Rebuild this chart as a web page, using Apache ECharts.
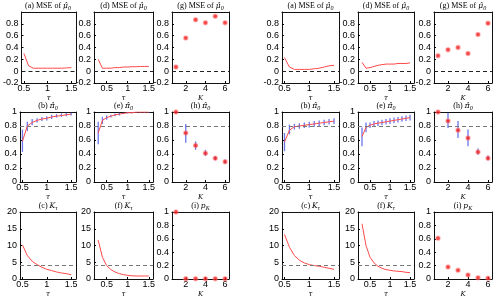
<!DOCTYPE html>
<html><head><meta charset="utf-8">
<script src="https://cdn.jsdelivr.net/npm/echarts@6/dist/echarts.min.js"></script>
<style>html,body{margin:0;padding:0;background:#fff}#c{width:496px;height:299px}</style>
</head><body><div id="c"></div>
<script>
// ---------- data ----------
const tauA = [0.5,0.6,0.7,0.8,0.9,1.0,1.1,1.2,1.3,1.4,1.5];
const tauB = [0.3,0.4,0.5,0.6,0.7,0.8,0.9,1.0,1.1,1.2,1.3,1.4,1.5];
const Kvals = [1,2,3,4,5,6];

const xTicksTau = [0.5,1,1.5];
const xTicksK = [2,4,6];
const yTicksMSE = [-0.2,0,0.2,0.4,0.6,0.8];
const yTicksPi = [0,0.2,0.4,0.6,0.8,1];
const yTicksKt = [0,5,10,15,20];

const refMSE = 0, refPi = 0.8, refKt = 4;

// left group
const L_a_mse = [0.30,0.09,0.05,0.05,0.05,0.05,0.05,0.05,0.05,0.055,0.06];
const L_d_mse = [0.20,0.05,0.05,0.05,0.06,0.06,0.07,0.07,0.075,0.075,0.08,0.08,0.08];
const L_g_mse = [0.07,0.56,0.87,0.82,0.93,0.82];
const L_b_pi = [0.58,0.80,0.85,0.88,0.90,0.91,0.93,0.94,0.95,0.96,0.97];
const L_b_lo = [0.43,0.73,0.81,0.85,0.87,0.88,0.90,0.92,0.93,0.94,0.95];
const L_b_hi = [0.75,0.86,0.90,0.91,0.93,0.94,0.96,0.97,0.98,0.99,0.99];
const L_e_pi = [0.70,0.88,0.92,0.94,0.96,0.97,0.98,0.99,0.99,1.0,1.0,1.0,1.0];
const L_e_lo = [0.54,0.83,0.89,0.92,0.94,0.95,0.97,0.98,0.98,0.99,0.99,0.99,0.99];
const L_e_hi = [0.86,0.93,0.95,0.96,0.98,0.99,0.99,1,1,1,1,1,1];
const L_h_pi = [1.0,0.70,0.52,0.41,0.34,0.29];
const L_h_lo = [1.0,0.56,0.46,0.37,0.31,0.26];
const L_h_hi = [1.0,0.83,0.58,0.46,0.37,0.32];
const L_c_K = [10.2,7.0,5.3,4.3,3.5,2.9,2.5,2.1,1.8,1.6,1.3];
const L_f_K = [11.6,6.5,4.0,2.8,2.1,1.6,1.3,1.1,0.95,0.9,0.9,0.9,0.9];
const L_i_p = [1.0,0.005,0.003,0.003,0.003,0.003];

// right group
const R_a_mse = [0.23,0.07,0.03,0.03,0.03,0.03,0.04,0.05,0.07,0.09,0.10];
const R_d_mse = [0.15,0.05,0.06,0.08,0.10,0.11,0.12,0.12,0.12,0.13,0.13,0.13,0.14];
const R_g_mse = [0.26,0.36,0.40,0.30,0.62,0.81];
const R_b_pi = [0.57,0.74,0.79,0.80,0.81,0.82,0.83,0.84,0.85,0.86,0.87];
const R_b_lo = [0.44,0.68,0.75,0.76,0.77,0.78,0.79,0.80,0.81,0.82,0.83];
const R_b_hi = [0.70,0.82,0.83,0.84,0.85,0.86,0.87,0.88,0.89,0.90,0.91];
const R_e_pi = [0.65,0.78,0.81,0.83,0.84,0.85,0.86,0.87,0.88,0.89,0.90,0.91,0.92];
const R_e_lo = [0.51,0.71,0.77,0.79,0.80,0.81,0.82,0.83,0.84,0.85,0.86,0.87,0.88];
const R_e_hi = [0.78,0.85,0.85,0.87,0.88,0.89,0.90,0.91,0.92,0.93,0.94,0.95,0.96];
const R_h_pi = [1.0,0.87,0.74,0.63,0.43,0.34];
const R_h_lo = [1.0,0.77,0.63,0.51,0.39,0.31];
const R_h_hi = [1.0,0.99,0.87,0.75,0.48,0.38];
const R_c_K = [13.3,9.5,7.0,5.6,4.8,4.3,4.0,3.8,3.5,3.2,2.9];
const R_f_K = [16.5,10.0,6.5,4.8,3.8,3.2,2.8,2.6,2.4,2.3,2.2,2.0,1.9];
const R_i_p = [0.61,0.18,0.13,0.06,0.02,0.01];

// ---------- layout ----------
const colLeft = [20,94,172,282,358,434];
const colWidth = [56,59,57,57,56,58];
const rowTop = [12,112,212];
const rowHeight = [71,70,69];

const RED = '#ff4a4a', BLUE = '#4f5fe8';
const tickFont = {fontFamily:'Liberation Sans', fontSize:9, color:'#000'};

const xDefs = [
  {min:0.45, max:1.6, ticks:xTicksTau, name:'τ'},
  {min:0.2, max:1.6, ticks:xTicksTau, name:'τ'},
  {min:0.6, max:6.4, ticks:xTicksK, name:'K'}
];
const yDefs = {
  mse:{min:-0.2, max:1, ticks:yTicksMSE},
  pi:{min:0, max:1, ticks:yTicksPi},
  kt:{min:0, max:20, ticks:yTicksKt}
};

const titleTexts = [
  ['{n|(a) MSE of }{i|μ̂}{s|0}','{n|(b) }{i|π̂}{s|0}','{n|(c) }{i|K}{s|τ}'],
  ['{n|(d) MSE of }{i|μ̂}{s|0}','{n|(e) }{i|π̂}{s|0}','{n|(f) }{i|K}{s|τ}'],
  ['{n|(g) MSE of }{i|μ̂}{s|0}','{n|(h) }{i|π̂}{s|0}','{n|(i) }{i|p}{s|K}']
];
const titleY = [6, 106, 206];

const groups = [
  {lines:[[L_a_mse,L_b_pi,L_c_K],[L_d_mse,L_e_pi,L_f_K]], lo:[L_b_lo,L_e_lo], hi:[L_b_hi,L_e_hi],
   g:L_g_mse, h:[L_h_pi,L_h_lo,L_h_hi], i:L_i_p},
  {lines:[[R_a_mse,R_b_pi,R_c_K],[R_d_mse,R_e_pi,R_f_K]], lo:[R_b_lo,R_e_lo], hi:[R_b_hi,R_e_hi],
   g:R_g_mse, h:[R_h_pi,R_h_lo,R_h_hi], i:R_i_p}
];

const grid=[], xAxis=[], yAxis=[], series=[], graphic=[];
const rich = {
  n:{fontFamily:'Liberation Serif', fontSize:8, color:'#000'},
  i:{fontFamily:'DejaVu Serif', fontStyle:'italic', fontSize:7.5, color:'#000'},
  s:{fontFamily:'Liberation Serif', fontStyle:'italic', fontSize:6, color:'#000', padding:[4,0,0,0]}
};

function fmt(v){ return (Math.round(v*100)/100).toString(); }

function errRender(params, api){
  const x = api.value(0);
  const p1 = api.coord([x, api.value(1)]);
  const p2 = api.coord([x, api.value(2)]);
  return {type:'line', shape:{x1:p1[0],y1:p1[1],x2:p2[0],y2:p2[1]}, style:{stroke:BLUE, lineWidth:1.3, opacity:0.85}};
}

const axisLineStyle = {show:true, onZero:false, lineStyle:{color:'#111', width:1}};

let gi = 0;
groups.forEach((G, gIdx) => {
  for (let c=0;c<3;c++){
    for (let r=0;r<3;r++){
      const left = colLeft[gIdx*3+c], width = colWidth[gIdx*3+c];
      const top = rowTop[r], height = rowHeight[r];
      grid.push({left, top, width, height});
      const xd = xDefs[c];
      const yd = (r===0) ? yDefs.mse : (r===1 ? yDefs.pi : (c===2 ? yDefs.pi : yDefs.kt));
      const ai = xAxis.length;
      xAxis.push({type:'value', gridIndex:gi, position:'bottom', min:xd.min, max:xd.max,
        name:xd.name, nameLocation:'middle', nameGap:12,
        nameTextStyle:{fontFamily:'DejaVu Serif', fontStyle:'italic', fontSize:7, color:'#000'},
        axisLine:axisLineStyle, splitLine:{show:false},
        axisTick:{show:true, inside:true, length:2, customValues:xd.ticks, lineStyle:{color:'#000'}},
        axisLabel:Object.assign({show:true, margin:1, customValues:xd.ticks, formatter:fmt}, tickFont)});
      xAxis.push({type:'value', gridIndex:gi, position:'top', min:xd.min, max:xd.max,
        axisLine:axisLineStyle, splitLine:{show:false}, axisTick:{show:false}, axisLabel:{show:false}});
      yAxis.push({type:'value', gridIndex:gi, position:'left', min:yd.min, max:yd.max,
        axisLine:axisLineStyle, splitLine:{show:false},
        axisTick:{show:true, inside:true, length:2, customValues:yd.ticks, lineStyle:{color:'#000'}},
        axisLabel:Object.assign({show:true, margin:3, customValues:yd.ticks, formatter:fmt}, tickFont)});
      yAxis.push({type:'value', gridIndex:gi, position:'right', min:yd.min, max:yd.max,
        axisLine:axisLineStyle, splitLine:{show:false}, axisTick:{show:false}, axisLabel:{show:false}});
      const tau = c===0 ? tauA : tauB;
      const refVal = r===0 ? refMSE : (r===1 ? refPi : refKt);
      const refColor = r===0 ? '#222' : '#777';
      const refLine = (c===2 && r===2) ? null : {silent:true, symbol:'none', label:{show:false},
          lineStyle:{color:refColor, type:[4,3], width:1}, data:[{yAxis:refVal}]};
      if (c<2){
        if (r===1){
          series.push({type:'custom', xAxisIndex:ai, yAxisIndex:ai, renderItem:errRender,
            data: tau.map((t,k)=>[t, G.lo[c][k], G.hi[c][k]]), z:2});
        }
        series.push({type:'line', xAxisIndex:ai, yAxisIndex:ai, symbol:'none',
          lineStyle:{color:RED, width:1}, data: tau.map((t,k)=>[t, G.lines[c][r][k]]),
          markLine: refLine, z:3});
      } else {
        let vals = r===0 ? G.g : (r===1 ? G.h[0] : G.i);
        if (r===1){
          series.push({type:'custom', xAxisIndex:ai, yAxisIndex:ai, renderItem:errRender,
            data: Kvals.map((k,j)=>[k, G.h[1][j], G.h[2][j]]), z:2});
        }
        series.push({type:'scatter', xAxisIndex:ai, yAxisIndex:ai, symbol:'circle', symbolSize:4,
          itemStyle:{color:'#f01818', borderColor:'rgba(255,120,120,0.6)', borderWidth:1.5},
          data: Kvals.map((k,j)=>[k, vals[j]]), markLine: refLine, z:3});
      }
      graphic.push({type:'text', x:left+width/2, y:titleY[r], style:{text:titleTexts[c][r], rich, align:'center', verticalAlign:'middle'}});
      gi++;
    }
  }
});

const chart = echarts.init(document.getElementById('c'), null, {renderer:'canvas'});
chart.setOption({animation:false, grid, xAxis, yAxis, series, graphic});
</script></body></html>
